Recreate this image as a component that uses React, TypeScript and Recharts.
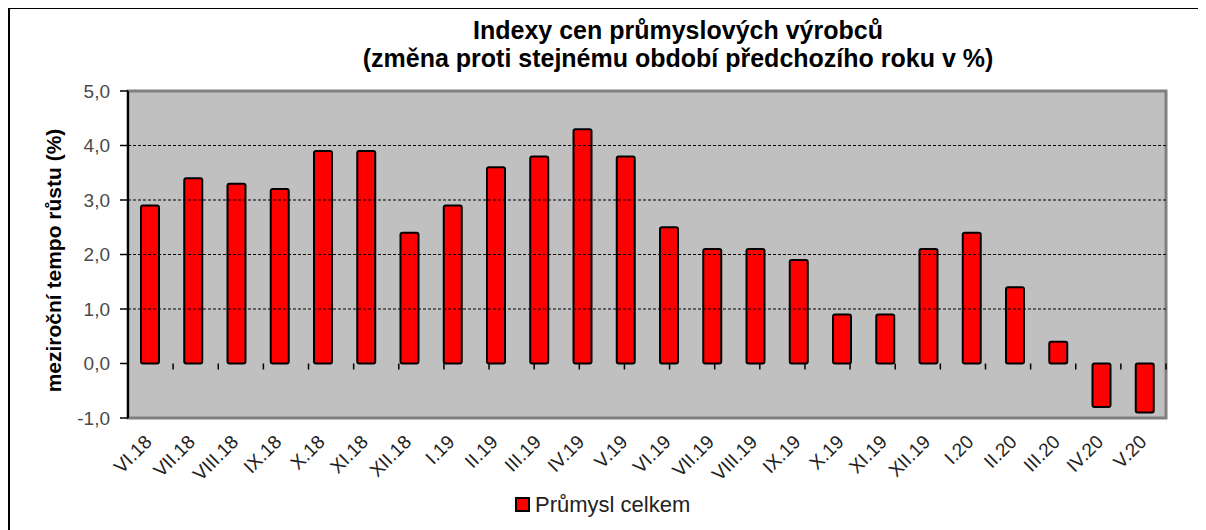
import React from "react";
import { BarChart, Bar, XAxis, YAxis, ReferenceLine, ReferenceArea, Label, Text } from "recharts";

const titleLine1 = "Indexy cen průmyslových výrobců";
const titleLine2 = "(změna proti stejnému období předchozího roku v %)";
const yAxisTitle = "meziroční tempo růstu (%)";
const seriesName = "Průmysl celkem";

const categories = [
  "VI.18", "VII.18", "VIII.18", "IX.18", "X.18", "XI.18", "XII.18",
  "I.19", "II.19", "III.19", "IV.19", "V.19", "VI.19", "VII.19", "VIII.19", "IX.19", "X.19", "XI.19", "XII.19",
  "I.20", "II.20", "III.20", "IV.20", "V.20",
];
const values = [
  2.9, 3.4, 3.3, 3.2, 3.9, 3.9, 2.4,
  2.9, 3.6, 3.8, 4.3, 3.8, 2.5, 2.1, 2.1, 1.9, 0.9, 0.9, 2.1,
  2.4, 1.4, 0.4, -0.8, -0.9,
];
const yTicks = [-1, 0, 1, 2, 3, 4, 5];
const gridValues = [1, 2, 3, 4];

const data = categories.map((c, i) => ({ name: c, value: values[i] }));
const boundaries = categories.map((_, i) => i + 1);

const FONT = "'Liberation Sans', Arial, sans-serif";

const fmt = (v: number) => v.toFixed(1).replace(".", ",");

const renderXTick = (props: any) => {
  const { x, y, payload } = props;
  return (
    <Text
      x={x + 3.4}
      y={y + 25}
      angle={-45}
      textAnchor="end"
      verticalAnchor="end"
      fontSize={19}
      fill="#222"
      fontFamily={FONT}
    >
      {payload.value}
    </Text>
  );
};

export default function App() {
  return (
    <div style={{ position: "relative", width: 1198, height: 522, fontFamily: FONT }}>
      <div style={{ position: "absolute", left: 0, top: -1, width: 1198, height: 523, borderTop: "2px solid #000", borderLeft: "2px solid #000", boxSizing: "border-box", pointerEvents: "none", zIndex: 2 }} />
      <div style={{ position: "absolute", left: 270, top: 8, width: 800, textAlign: "center", fontWeight: "bold", fontSize: 25, lineHeight: "28px", color: "#000" }}>
        <div>{titleLine1}</div>
        <div>{titleLine2}</div>
      </div>
      <BarChart width={1198} height={522} data={data} margin={{ top: 83, right: 40, left: 0, bottom: 0 }} barSize={18}>
        <ReferenceArea y1={-1} y2={5} fill="#c0c0c0" fillOpacity={1} stroke="#808080" strokeWidth={3} ifOverflow="visible" />
        <XAxis
          dataKey="name"
          interval={0}
          axisLine={false}
          tickLine={false}
          tickSize={0}
          tickMargin={0}
          height={112}
          tick={renderXTick}
        />
        <XAxis xAxisId="b" type="number" domain={[0, categories.length]} hide />
        <YAxis
          domain={[-1, 5]}
          ticks={yTicks}
          interval={0}
          width={120}
          tickFormatter={fmt}
          axisLine={{ stroke: "#000", strokeWidth: 2 }}
          tickLine={{ stroke: "#000", strokeWidth: 1.5 }}
          tickSize={8}
          tickMargin={10}
          tick={{ fontSize: 19, fill: "#4a4a4a", fontFamily: FONT }}
        >
          <Label
            content={(p: any) => {
              const vb = p.viewBox || {};
              const cy = (vb.y || 0) + (vb.height || 0) / 2 + 6;
              return (
                <text x={45} y={cy} transform={`rotate(-90, 45, ${cy})`} textAnchor="middle" dominantBaseline="central" fontSize={21} fontWeight="bold" fill="#000" fontFamily={FONT}>
                  {yAxisTitle}
                </text>
              );
            }}
          />
        </YAxis>
        {gridValues.map((g) => (
          <ReferenceLine key={g} y={g} stroke="#000" strokeDasharray="3 2" strokeWidth={1} />
        ))}
        {boundaries.map((b) => (
          <ReferenceLine key={"t" + b} xAxisId="b" segment={[{ x: b, y: 0 }, { x: b, y: -0.11 }]} stroke="#000" strokeWidth={1.5} />
        ))}
        <Bar dataKey="value" fill="#ff0000" stroke="#000" strokeWidth={2} radius={2} isAnimationActive={false} />
      </BarChart>
      <div style={{ position: "absolute", left: 507, top: 488, display: "flex", alignItems: "center" }}>
        <div style={{ width: 15, height: 15, background: "#ff0000", border: "2px solid #000", boxSizing: "border-box" }} />
        <span style={{ marginLeft: 5, fontSize: 22, color: "#222", lineHeight: "17px" }}>{seriesName}</span>
      </div>
    </div>
  );
}
